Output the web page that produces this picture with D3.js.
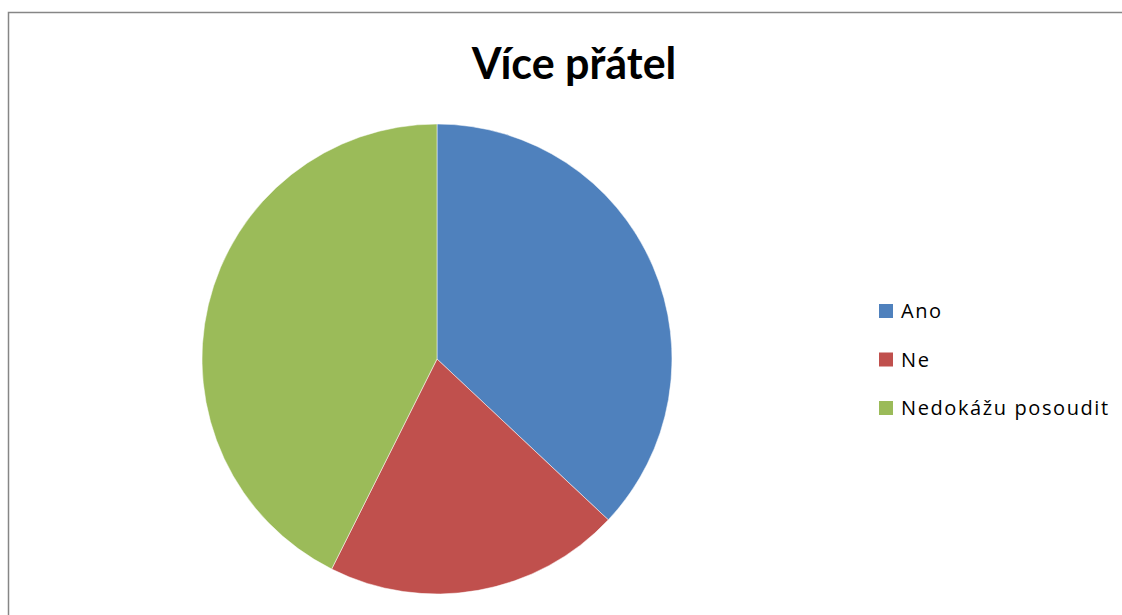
<!DOCTYPE html>
<meta charset="utf-8">
<script src="https://d3js.org/d3.v7.min.js"></script>
<style>
  body { margin: 0; background: #fff; }
  svg text { font-family: "Open Sans", Lato, sans-serif; }
</style>
<body>
<div id="graph"></div>
<script>
  // data (percent shares)
  var categories = ["Ano", "Ne", "Nedokážu posoudit"];
  var values = [37, 20.4, 42.6];
  var colors = ["#4F81BD", "#C0504D", "#9BBB59"];
  var title = "Více přátel";

  var width = 1122, height = 615;

  var svg = d3.select("#graph")
    .append("svg")
    .attr("width", width)
    .attr("height", height);

  // chart frame (left + top edge visible)
  svg.append("path")
    .attr("d", "M8.5," + height + "V12.5H" + width)
    .attr("fill", "none")
    .attr("stroke", "#868686")
    .attr("stroke-width", 1.5);

  svg.append("text")
    .attr("x", 574)
    .attr("y", 79)
    .attr("text-anchor", "middle")
    .style("font-family", "Lato, sans-serif")
    .style("font-size", "43px")
    .style("font-weight", "bold")
    .text(title);

  var cx = 437, cy = 359, r = 235;

  var pie = d3.pie().sort(null).value(function (d) { return d; });
  var arc = d3.arc().innerRadius(0).outerRadius(r);

  var g = svg.append("g")
    .attr("transform", "translate(" + cx + "," + cy + ")");

  g.selectAll("path")
    .data(pie(values))
    .enter()
    .append("path")
    .attr("d", arc)
    .attr("fill", function (d, i) { return colors[i]; })
    .attr("stroke", "#fff")
    .attr("stroke-width", 0.5);

  // legend
  var legend = svg.append("g")
    .attr("transform", "translate(879,311)");

  var item = legend.selectAll("g")
    .data(categories)
    .enter()
    .append("g")
    .attr("transform", function (d, i) { return "translate(0," + (i * 48.5) + ")"; });

  item.append("rect")
    .attr("x", 0)
    .attr("y", -7)
    .attr("width", 14)
    .attr("height", 14)
    .attr("fill", function (d, i) { return colors[i]; });

  item.append("text")
    .attr("x", 22)
    .attr("y", 7)
    .style("font-size", "20px")
    .style("letter-spacing", "1.6px")
    .text(function (d) { return d; });
</script>
</body>
